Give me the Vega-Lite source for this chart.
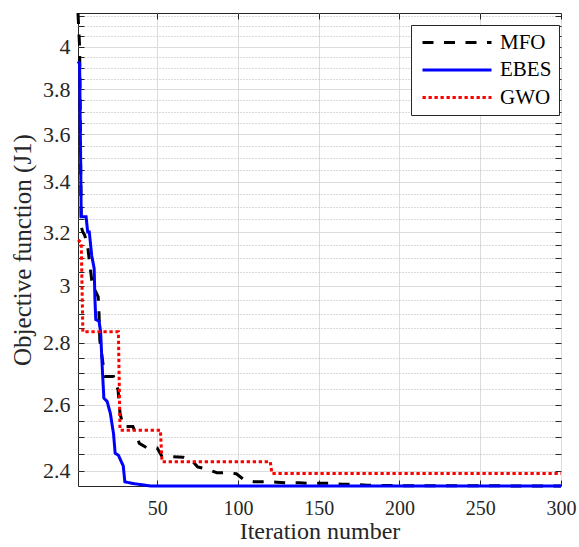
{
  "$schema": "https://vega.github.io/schema/vega-lite/v6.json",
  "width": 483,
  "height": 473,
  "autosize": {"type": "none"},
  "padding": {"left": 78, "top": 13, "right": 18, "bottom": 61},
  "background": "white",
  "config": {
    "font": "Liberation Serif",
    "view": {"stroke": "#262626", "strokeWidth": 1},
    "axis": {"domain": false, "labelFont": "Liberation Serif", "titleFont": "Liberation Serif", "labelColor": "#262626", "titleColor": "#262626", "titleFontWeight": "normal", "tickColor": "#262626", "tickWidth": 1},
    "legend": {"orient": "none", "legendX": 333, "legendY": 12, "title": null, "strokeColor": "#262626", "fillColor": "white", "padding": 7, "labelFont": "Liberation Serif", "labelFontSize": 21, "labelColor": "#000000", "symbolType": "M-1,0H10.5", "symbolSize": 144, "symbolStrokeWidth": 3, "rowPadding": 5.5, "labelOffset": 61, "labelLimit": 200}
  },
  "data": {"values": [
    {"it": 1, "val": 4.166, "alg": "MFO"}, {"it": 2, "val": 4.0, "alg": "MFO"}, {"it": 3, "val": 3.22, "alg": "MFO"}, {"it": 4, "val": 3.2, "alg": "MFO"}, {"it": 5, "val": 3.19, "alg": "MFO"}, {"it": 6, "val": 3.17, "alg": "MFO"}, {"it": 7, "val": 3.144, "alg": "MFO"}, {"it": 8, "val": 3.094, "alg": "MFO"}, {"it": 9.5, "val": 3.02, "alg": "MFO"}, {"it": 11, "val": 2.99, "alg": "MFO"}, {"it": 13.5, "val": 2.96, "alg": "MFO"}, {"it": 14, "val": 2.902, "alg": "MFO"}, {"it": 14.5, "val": 2.81, "alg": "MFO"}, {"it": 16, "val": 2.75, "alg": "MFO"}, {"it": 17.5, "val": 2.689, "alg": "MFO"}, {"it": 23, "val": 2.689, "alg": "MFO"}, {"it": 25.8, "val": 2.646, "alg": "MFO"}, {"it": 27, "val": 2.573, "alg": "MFO"}, {"it": 29, "val": 2.532, "alg": "MFO"}, {"it": 35, "val": 2.532, "alg": "MFO"}, {"it": 39, "val": 2.481, "alg": "MFO"}, {"it": 44, "val": 2.467, "alg": "MFO"}, {"it": 50, "val": 2.467, "alg": "MFO"}, {"it": 53, "val": 2.442, "alg": "MFO"}, {"it": 59, "val": 2.442, "alg": "MFO"}, {"it": 66, "val": 2.44, "alg": "MFO"}, {"it": 72, "val": 2.428, "alg": "MFO"}, {"it": 75, "val": 2.412, "alg": "MFO"}, {"it": 81, "val": 2.405, "alg": "MFO"}, {"it": 87, "val": 2.395, "alg": "MFO"}, {"it": 93, "val": 2.395, "alg": "MFO"}, {"it": 99, "val": 2.392, "alg": "MFO"}, {"it": 104, "val": 2.374, "alg": "MFO"}, {"it": 110, "val": 2.369, "alg": "MFO"}, {"it": 117, "val": 2.369, "alg": "MFO"}, {"it": 124, "val": 2.368, "alg": "MFO"}, {"it": 130, "val": 2.366, "alg": "MFO"}, {"it": 138, "val": 2.366, "alg": "MFO"}, {"it": 143, "val": 2.365, "alg": "MFO"}, {"it": 157, "val": 2.365, "alg": "MFO"}, {"it": 164, "val": 2.362, "alg": "MFO"}, {"it": 170, "val": 2.362, "alg": "MFO"}, {"it": 180, "val": 2.359, "alg": "MFO"}, {"it": 200, "val": 2.358, "alg": "MFO"}, {"it": 300, "val": 2.357, "alg": "MFO"},
    {"it": 1, "val": 3.93, "alg": "EBES"}, {"it": 2, "val": 3.92, "alg": "EBES"}, {"it": 3, "val": 3.26, "alg": "EBES"}, {"it": 6, "val": 3.26, "alg": "EBES"}, {"it": 7, "val": 3.2, "alg": "EBES"}, {"it": 8, "val": 3.2, "alg": "EBES"}, {"it": 9.5, "val": 3.11, "alg": "EBES"}, {"it": 11, "val": 3.063, "alg": "EBES"}, {"it": 11.5, "val": 2.95, "alg": "EBES"}, {"it": 12, "val": 2.88, "alg": "EBES"}, {"it": 14, "val": 2.875, "alg": "EBES"}, {"it": 15, "val": 2.838, "alg": "EBES"}, {"it": 16, "val": 2.72, "alg": "EBES"}, {"it": 17, "val": 2.62, "alg": "EBES"}, {"it": 18, "val": 2.615, "alg": "EBES"}, {"it": 19, "val": 2.61, "alg": "EBES"}, {"it": 21, "val": 2.573, "alg": "EBES"}, {"it": 23, "val": 2.51, "alg": "EBES"}, {"it": 24, "val": 2.452, "alg": "EBES"}, {"it": 26, "val": 2.446, "alg": "EBES"}, {"it": 28, "val": 2.425, "alg": "EBES"}, {"it": 29, "val": 2.415, "alg": "EBES"}, {"it": 30, "val": 2.369, "alg": "EBES"}, {"it": 35, "val": 2.364, "alg": "EBES"}, {"it": 40, "val": 2.361, "alg": "EBES"}, {"it": 46, "val": 2.357, "alg": "EBES"}, {"it": 300, "val": 2.357, "alg": "EBES"},
    {"it": 1, "val": 3.17, "alg": "GWO"}, {"it": 3, "val": 3.16, "alg": "GWO"}, {"it": 4, "val": 2.838, "alg": "GWO"}, {"it": 26, "val": 2.838, "alg": "GWO"}, {"it": 27, "val": 2.521, "alg": "GWO"}, {"it": 52, "val": 2.521, "alg": "GWO"}, {"it": 53, "val": 2.427, "alg": "GWO"}, {"it": 120, "val": 2.427, "alg": "GWO"}, {"it": 121, "val": 2.393, "alg": "GWO"}, {"it": 300, "val": 2.393, "alg": "GWO"}
  ]},
  "layer": [
    {
      "mark": {"type": "line", "strokeWidth": 3},
      "encoding": {
        "x": {"field": "it", "type": "quantitative", "scale": {"domain": [1, 300], "nice": false, "zero": false},
          "axis": {"orient": "bottom", "values": [50, 100, 150, 200, 250, 300], "title": "Iteration number", "titleFont": "Liberation Serif", "labelFont": "Liberation Serif", "titleFontSize": 24, "labelFontSize": 20, "tickSize": -6, "labelPadding": 18, "gridColor": "#dcdcdc", "titleY": 52, "titleBaseline": "alphabetic", "labelFlush": false}},
        "y": {"field": "val", "type": "quantitative", "scale": {"type": "log", "domain": [2.357, 4.166], "nice": false, "zero": false},
          "axis": {"orient": "left", "values": [2.4, 2.45, 2.5, 2.55, 2.6, 2.65, 2.7, 2.75, 2.8, 2.85, 2.9, 2.95, 3, 3.05, 3.1, 3.15, 3.2, 3.25, 3.3, 3.35, 3.4, 3.45, 3.5, 3.55, 3.6, 3.65, 3.7, 3.75, 3.8, 3.85, 3.9, 3.95, 4, 4.05, 4.1, 4.15],
            "labelExpr": "abs(datum.value*5 - round(datum.value*5)) < 0.01 ? format(datum.value, '.1~f') : ''",
            "gridDash": {"condition": {"test": "abs(datum.value*5 - round(datum.value*5)) < 0.01", "value": []}, "value": [1, 2]},
            "gridColor": {"condition": {"test": "abs(datum.value*5 - round(datum.value*5)) < 0.01", "value": "#dcdcdc"}, "value": "#b4b4b4"},
            "title": "Objective function (J1)", "titleFont": "Liberation Serif", "labelFont": "Liberation Serif", "titleFontSize": 25, "labelFontSize": 22, "tickSize": -6, "labelPadding": 14, "titleX": -48, "titleBaseline": "alphabetic", "labelFlush": false, "labelOverlap": false}},
        "color": {"field": "alg", "type": "nominal", "scale": {"domain": ["MFO", "EBES", "GWO"], "range": ["#000000", "#0000ff", "#ff0000"]}},
        "strokeDash": {"field": "alg", "type": "nominal", "scale": {"domain": ["MFO", "EBES", "GWO"], "range": [[11, 10.5], [1, 0], [3.3, 2.7]]}}
      }
    },
    {
      "mark": {"type": "point", "opacity": 0},
      "encoding": {
        "x": {"field": "it", "type": "quantitative", "scale": {"domain": [1, 300], "nice": false, "zero": false},
          "axis": {"orient": "top", "values": [50, 100, 150, 200, 250, 300], "labels": false, "grid": false, "tickSize": -6, "title": null}},
        "y": {"field": "val", "type": "quantitative", "scale": {"type": "log", "domain": [2.357, 4.166], "nice": false, "zero": false},
          "axis": {"orient": "right", "values": [2.4, 2.45, 2.5, 2.55, 2.6, 2.65, 2.7, 2.75, 2.8, 2.85, 2.9, 2.95, 3, 3.05, 3.1, 3.15, 3.2, 3.25, 3.3, 3.35, 3.4, 3.45, 3.5, 3.55, 3.6, 3.65, 3.7, 3.75, 3.8, 3.85, 3.9, 3.95, 4, 4.05, 4.1, 4.15], "labels": false, "grid": false, "tickSize": -6, "title": null}}
      }
    }
  ],
  "resolve": {"axis": {"x": "independent", "y": "independent"}}
}
